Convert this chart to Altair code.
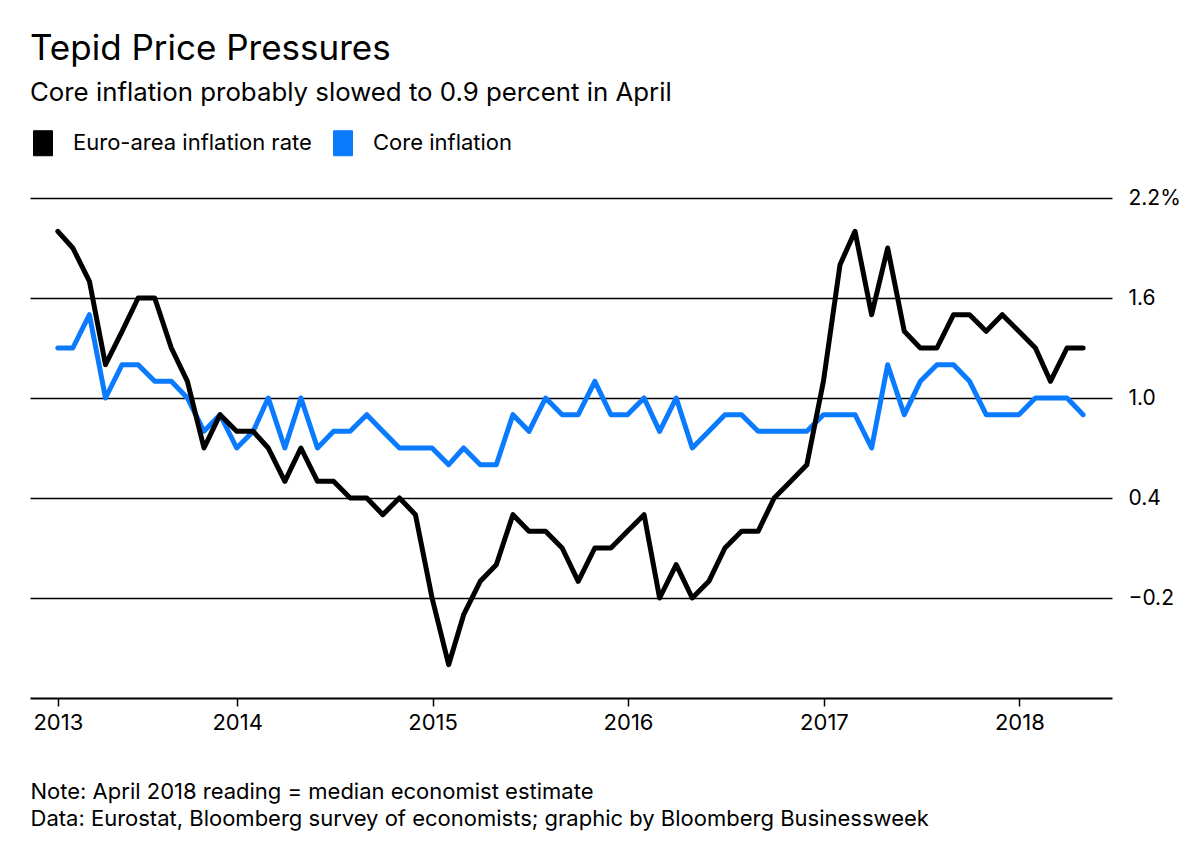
import altair as alt
import pandas as pd

# ---- data -------------------------------------------------------------
SERIES = ["Euro-area inflation rate", "Core inflation"]
COLORS = ["#000000", "#0a7bff"]

# monthly readings, Jan 2013 .. Apr 2018 (percent, year over year)
headline = [
    2.0, 1.9, 1.7, 1.2, 1.4, 1.6, 1.6, 1.3, 1.1, 0.7, 0.9, 0.8,      # 2013
    0.8, 0.7, 0.5, 0.7, 0.5, 0.5, 0.4, 0.4, 0.3, 0.4, 0.3, -0.2,     # 2014
    -0.6, -0.3, -0.1, 0.0, 0.3, 0.2, 0.2, 0.1, -0.1, 0.1, 0.1, 0.2,  # 2015
    0.3, -0.2, 0.0, -0.2, -0.1, 0.1, 0.2, 0.2, 0.4, 0.5, 0.6, 1.1,   # 2016
    1.8, 2.0, 1.5, 1.9, 1.4, 1.3, 1.3, 1.5, 1.5, 1.4, 1.5, 1.4,      # 2017
    1.3, 1.1, 1.3, 1.3,                                              # 2018
]
core = [
    1.3, 1.3, 1.5, 1.0, 1.2, 1.2, 1.1, 1.1, 1.0, 0.8, 0.9, 0.7,      # 2013
    0.8, 1.0, 0.7, 1.0, 0.7, 0.8, 0.8, 0.9, 0.8, 0.7, 0.7, 0.7,      # 2014
    0.6, 0.7, 0.6, 0.6, 0.9, 0.8, 1.0, 0.9, 0.9, 1.1, 0.9, 0.9,      # 2015
    1.0, 0.8, 1.0, 0.7, 0.8, 0.9, 0.9, 0.8, 0.8, 0.8, 0.8, 0.9,      # 2016
    0.9, 0.9, 0.7, 1.2, 0.9, 1.1, 1.2, 1.2, 1.1, 0.9, 0.9, 0.9,      # 2017
    1.0, 1.0, 1.0, 0.9,                                              # 2018
]
# each reading is dated at the end of its month
dates = [
    (pd.Timestamp(2013, 1, 1) + pd.DateOffset(months=i) + pd.offsets.MonthEnd(0)).strftime("%Y-%m-%dT00:00:00")
    for i in range(len(headline))
]

Y_TICKS = [-0.2, 0.4, 1.0, 1.6, 2.2]
FOOTNOTE = [
    "Note: April 2018 reading = median economist estimate",
    "Data: Eurostat, Bloomberg survey of economists; graphic by Bloomberg Businessweek",
]

df = pd.DataFrame(
    {
        "date": dates * 2,
        "series": [SERIES[0]] * len(headline) + [SERIES[1]] * len(core),
        "value": headline + core,
    }
)

FONT = "Inter"

x_values = [alt.DateTime(year=2013, month=1, date=31)] + [
    alt.DateTime(year=y, month=1, date=1) for y in range(2014, 2019)
]

x = alt.X(
    "date:T",
    scale=alt.Scale(
        domain=[alt.DateTime(year=2012, month=12, date=10), alt.DateTime(year=2018, month=6, date=23)]
    ),
    axis=alt.Axis(
        values=x_values,
        format="%Y",
        grid=False,
        domain=True,
        domainColor="#000000",
        domainWidth=2,
        ticks=True,
        tickColor="#000000",
        tickWidth=1.5,
        tickSize=8,
        labelFontSize=22,
        labelColor="#000000",
        labelPadding=6,
        labelFlush=False,
        title=FOOTNOTE,
        titleAnchor="start",
        titleAlign="left",
        titleX=0,
        titleY=100,
        titleBaseline="alphabetic",
        titleFontSize=22,
        titleFontWeight="normal",
        titleColor="#000000",
        titleLineHeight=27,
    ),
)
y = alt.Y(
    "value:Q",
    scale=alt.Scale(domain=[-0.8, 2.2], nice=False, zero=False),
    axis=alt.Axis(
        orient="right",
        values=Y_TICKS,
        labelExpr="datum.value > 2.1 ? format(datum.value, '.1f') + '%' : format(datum.value, '.1f')",
        grid=True,
        gridColor="#000000",
        gridWidth=1.4,
        domain=False,
        ticks=False,
        labelPadding=16,
        labelFontSize=21,
        labelColor="#000000",
        labelAlign="left",
        labelBaseline="middle",
        title=None,
    ),
)
color_scale = alt.Scale(domain=SERIES, range=COLORS)

base = alt.Chart(df).encode(x=x, y=y)

# invisible points that carry the (filled) legend
legend_layer = base.mark_point(filled=True, size=0).encode(
    fill=alt.Fill(
        "series:N",
        scale=color_scale,
        legend=alt.Legend(
            title=None,
            orient="top",
            direction="horizontal",
            offset=40,
            symbolType="M-0.76,-1H0.76V1H-0.76Z",
            symbolSize=625,
            symbolStrokeColor="#1a1a1a",
            symbolStrokeWidth=1,
            symbolOpacity=1,
            labelFontSize=22,
            labelColor="#000000",
            labelOffset=17,
            labelLimit=0,
            columnPadding=18,
        ),
    )
)
core_line = base.transform_filter(alt.datum.series == SERIES[1]).mark_line(
    strokeWidth=5, strokeCap="round", strokeJoin="round"
).encode(stroke=alt.Stroke("series:N", scale=color_scale, legend=None))
head_line = base.transform_filter(alt.datum.series == SERIES[0]).mark_line(
    strokeWidth=5, strokeCap="round", strokeJoin="round"
).encode(stroke=alt.Stroke("series:N", scale=color_scale, legend=None))

chart = (
    alt.layer(legend_layer, core_line, head_line)
    .properties(
        width=1082,
        height=500,
        padding={"left": 22, "top": 24, "right": 10, "bottom": 10},
        title=alt.TitleParams(
            text="Tepid Price Pressures",
            subtitle="Core inflation probably slowed to 0.9 percent in April",
            anchor="start",
            frame="group",
            font=FONT,
            fontSize=35,
            fontWeight="normal",
            color="#000000",
            subtitleFont=FONT,
            subtitleFontSize=25.8,
            subtitleColor="#000000",
            subtitlePadding=14,
            offset=24,
        ),
    )
    .configure(font=FONT)
    .configure_view(stroke=None)
)

chart.save("out.html", embed_options={"renderer": "svg", "actions": False})
